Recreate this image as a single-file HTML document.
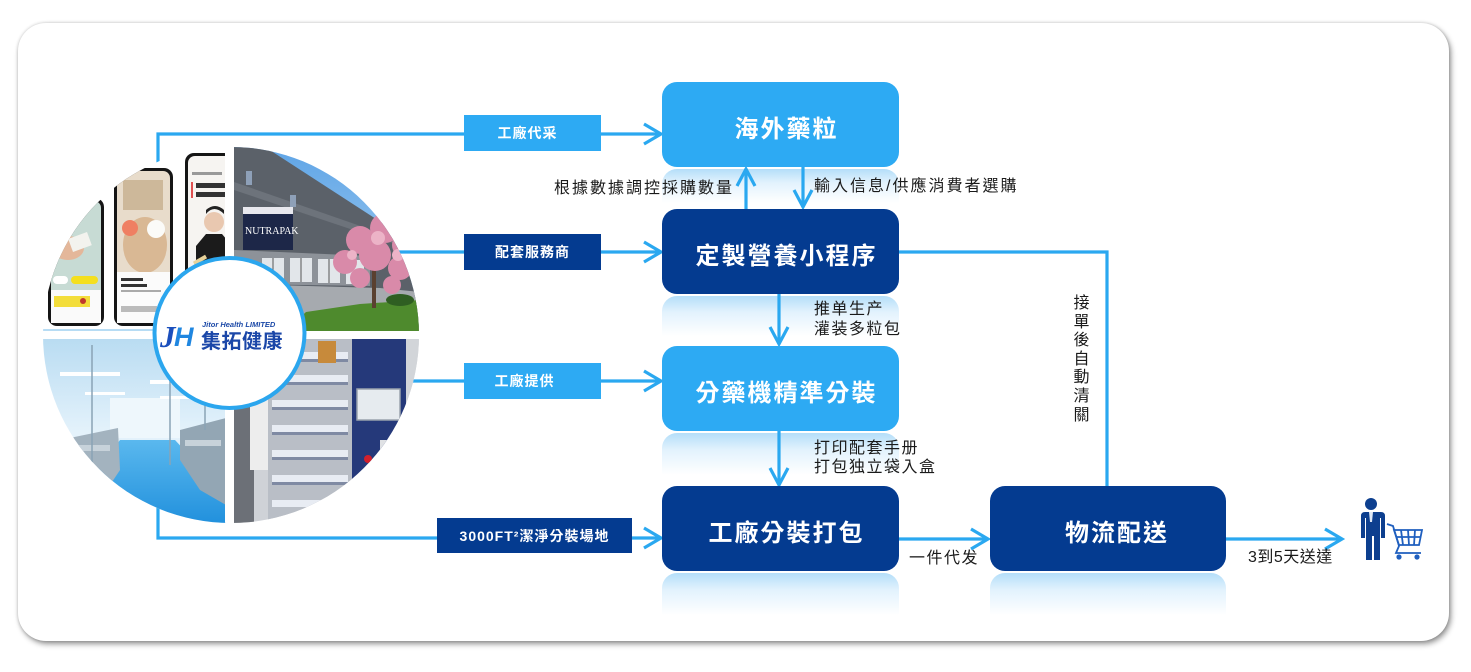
<!DOCTYPE html>
<html><head><meta charset="utf-8">
<style>
html,body{margin:0;padding:0;background:#fff;}
body{width:1471px;height:672px;position:relative;overflow:hidden;font-family:"Liberation Sans","Noto Sans CJK TC","Noto Sans CJK SC",sans-serif;}
.abs{position:absolute;left:0;top:0;}
.card{position:absolute;left:18px;top:23px;width:1431px;height:618px;border-radius:28px;background:#fff;box-shadow:2px 3px 6px rgba(0,0,0,0.42),0 0 3px rgba(0,0,0,0.18);}
.box{position:absolute;border-radius:15px;color:#fff;font-weight:bold;font-size:24px;letter-spacing:2px;display:flex;align-items:center;justify-content:center;box-sizing:border-box;padding-left:12px;padding-top:3px;}
.lt{background:#2daaf3;}
.dk{background:#043b90;}
.refl{position:absolute;border-radius:15px 15px 0 0;background:linear-gradient(to bottom,#b4def9 0%,#e2f2fd 40%,rgba(255,255,255,0) 100%);}
.lab{position:absolute;color:#fff;font-weight:bold;font-size:14px;letter-spacing:1px;display:flex;align-items:center;justify-content:center;box-sizing:border-box;}
.t{position:absolute;color:#1a1a1a;font-size:16px;line-height:20px;letter-spacing:1.5px;white-space:nowrap;}
</style></head>
<body>
<div class="card"></div>

<!-- reflections -->
<div class="refl" style="left:662px;top:169px;width:237px;height:34px;"></div>
<div class="refl" style="left:662px;top:296px;width:237px;height:40px;"></div>
<div class="refl" style="left:662px;top:433px;width:237px;height:42px;"></div>
<div class="refl" style="left:662px;top:573px;width:237px;height:42px;"></div>
<div class="refl" style="left:990px;top:573px;width:236px;height:42px;"></div>

<!-- connectors -->
<svg class="abs" width="1471" height="672" viewBox="0 0 1471 672">
<g fill="none" stroke="#2aa8f0" stroke-width="3.2" stroke-linejoin="miter" stroke-linecap="butt">
  <path d="M158,170 V134 H660"/>
  <polyline points="644,124 661,134 644,144"/>
  <path d="M300,252 H660"/>
  <polyline points="644,242 661,252 644,262"/>
  <path d="M300,381 H660"/>
  <polyline points="644,371 661,381 644,391"/>
  <path d="M158,500 V538 H660"/>
  <polyline points="644,528 661,538 644,548"/>
  <!-- up arrow -->
  <path d="M746,209 V170"/>
  <polyline points="737,186 746,169 755,186"/>
  <!-- down arrow -->
  <path d="M803,167 V206"/>
  <polyline points="794,190 803,207 812,190"/>
  <!-- 定製 -> 分藥機 -->
  <path d="M779,294 V343"/>
  <polyline points="770,327 779,344 788,327"/>
  <!-- 分藥機 -> 工廠分裝打包 -->
  <path d="M779,431 V484"/>
  <polyline points="770,468 779,485 788,468"/>
  <!-- 工廠分裝打包 -> 物流配送 -->
  <path d="M899,539 H987"/>
  <polyline points="971,529 988,539 971,549"/>
  <!-- 物流 -> customer -->
  <path d="M1226,539 H1341"/>
  <polyline points="1325,529 1342,539 1325,549"/>
  <!-- 定製 -> 物流 -->
  <path d="M899,252 H1107 V486"/>
</g>
</svg>

<!-- collage -->
<svg class="abs" width="1471" height="672" viewBox="0 0 1471 672">
<defs>
  <clipPath id="cc"><circle cx="231" cy="335" r="188"/></clipPath>
  <linearGradient id="sky" x1="0" y1="0" x2="0" y2="1"><stop offset="0" stop-color="#5ea4e6"/><stop offset="1" stop-color="#b2d6f3"/></linearGradient>
  <linearGradient id="room" x1="0" y1="0" x2="0" y2="1"><stop offset="0" stop-color="#b9dcf2"/><stop offset="0.5" stop-color="#e4f2fb"/><stop offset="1" stop-color="#cfe7f6"/></linearGradient>
  <linearGradient id="floor" x1="0" y1="0" x2="0" y2="1"><stop offset="0" stop-color="#5ab8ee"/><stop offset="1" stop-color="#1f8fdc"/></linearGradient>
</defs>
<g clip-path="url(#cc)">
  <rect x="40" y="145" width="386" height="382" fill="#fff"/>
  <!-- TL phones -->
  <rect x="48" y="198" width="56" height="128" rx="9" fill="#151515"/>
  <rect x="51" y="201" width="50" height="122" rx="7" fill="#c7dbd4"/>
  <ellipse cx="68" cy="248" rx="16" ry="12" fill="#e4b79a"/>
  <rect x="70" y="235" width="20" height="14" fill="#f3f3ee" transform="rotate(-20 80 242)"/>
  <rect x="51" y="290" width="50" height="33" fill="#fafafa"/>
  <rect x="53" y="276" width="15" height="8" rx="4" fill="#fff"/>
  <rect x="71" y="276" width="27" height="8" rx="4" fill="#f4df1e"/>
  <rect x="54" y="296" width="36" height="11" fill="#f3dd3a"/>
  <circle cx="83" cy="301" r="3" fill="#c0392b"/>
  <rect x="114" y="168" width="59" height="158" rx="9" fill="#151515"/>
  <rect x="117" y="171" width="53" height="152" rx="7" fill="#e8dccb"/>
  <rect x="123" y="180" width="40" height="30" fill="#cdb89a"/>
  <ellipse cx="145" cy="245" rx="22" ry="28" fill="#d9b894"/>
  <circle cx="130" cy="228" r="8" fill="#ef7f62"/>
  <circle cx="156" cy="229" r="9" fill="#fbfbf8"/>
  <rect x="117" y="272" width="53" height="51" fill="#fbfbfb"/>
  <rect x="121" y="278" width="22" height="3" fill="#333"/>
  <rect x="121" y="284" width="26" height="3" fill="#333"/>
  <rect x="121" y="290" width="40" height="2" fill="#aaa"/>
  <rect x="121" y="306" width="36" height="6" fill="#bbb"/>
  <rect x="185" y="153" width="48" height="180" rx="9" fill="#151515"/>
  <rect x="188" y="156" width="44" height="175" rx="7" fill="#f6f4f1"/>
  <rect x="192" y="172" width="30" height="3" fill="#999"/>
  <rect x="196" y="183" width="30" height="5" fill="#333"/>
  <rect x="196" y="192" width="30" height="5" fill="#333"/>
  <rect x="191" y="182" width="2" height="16" fill="#e05050"/>
  <circle cx="214" cy="222" r="10" fill="#e9c8b0"/>
  <path d="M206,214 q8,-10 18,0 v-4 q-9,-8 -18,0z" fill="#222"/>
  <polygon points="196,246 206,234 222,234 232,246 232,300 196,300" fill="#1b1b1b"/>
  <rect x="193" y="258" width="14" height="4" fill="#e8d39a" transform="rotate(-30 200 260)"/>
  <line x1="42" y1="330" x2="225" y2="330" stroke="#9fd0f0" stroke-width="1.5"/>

  <!-- TR building -->
  <rect x="234" y="145" width="192" height="186" fill="url(#sky)"/>
  <polygon points="234,145 262,145 390,228 420,246 420,331 234,331" fill="#5b6169"/>
  <polygon points="234,182 395,238 395,244 234,190" fill="#6d737b"/>
  <rect x="246" y="171" width="6" height="14" fill="#8ea0b8"/>
  <rect x="290" y="195" width="6" height="12" fill="#8ea0b8"/>
  <polygon points="234,250 370,256 370,286 234,284" fill="#8d9299"/>
  <rect x="262" y="258" width="22" height="24" fill="#e2e6ea"/>
  <rect x="290" y="258" width="22" height="24" fill="#e2e6ea"/>
  <rect x="318" y="259" width="22" height="24" fill="#e2e6ea"/>
  <rect x="346" y="260" width="18" height="24" fill="#e2e6ea"/>
  <line x1="273" y1="258" x2="273" y2="282" stroke="#555" stroke-width="1"/>
  <line x1="301" y1="258" x2="301" y2="282" stroke="#555" stroke-width="1"/>
  <line x1="329" y1="259" x2="329" y2="283" stroke="#555" stroke-width="1"/>
  <polygon points="234,284 380,288 420,292 420,331 234,331" fill="#a6aaaf"/>
  <polygon points="286,331 306,312 360,304 420,300 420,331" fill="#4e8a2d"/>
  <rect x="243" y="207" width="50" height="43" fill="#1d2748"/>
  <rect x="243" y="207" width="50" height="7" fill="#e8e8ee"/>
  <text x="245" y="234" font-family="Liberation Serif, serif" font-size="10" fill="#fff">NUTRAPAK</text>
  <rect x="372" y="268" width="4" height="40" fill="#5a4030"/>
  <g fill="#d98aa9">
    <circle cx="360" cy="240" r="14"/><circle cx="385" cy="228" r="15"/><circle cx="405" cy="245" r="13"/>
    <circle cx="345" cy="262" r="12"/><circle cx="375" cy="255" r="16"/><circle cx="400" cy="268" r="12"/>
    <circle cx="360" cy="278" r="10"/><circle cx="392" cy="285" r="9"/>
  </g>
  <g fill="#ecb3c7"><circle cx="378" cy="238" r="7"/><circle cx="352" cy="255" r="5"/><circle cx="398" cy="255" r="6"/></g>
  <ellipse cx="400" cy="300" rx="14" ry="6" fill="#2f5e22"/>

  <!-- BL clean room -->
  <rect x="40" y="339" width="186" height="188" fill="url(#room)"/>
  <rect x="110" y="398" width="70" height="40" fill="#eef7fc"/>
  <rect x="60" y="372" width="60" height="4" fill="#fff"/>
  <rect x="150" y="380" width="55" height="4" fill="#fff"/>
  <rect x="85" y="392" width="40" height="3" fill="#fff"/>
  <rect x="160" y="396" width="40" height="3" fill="#fff"/>
  <polygon points="55,527 120,440 175,440 226,495 226,527" fill="url(#floor)"/>
  <polygon points="60,440 118,428 120,470 100,500 60,510" fill="#a3b3bf"/>
  <polygon points="180,430 226,418 226,505 200,490 180,460" fill="#93a6b4"/>
  <rect x="70" y="445" width="40" height="6" fill="#c7d2da"/>
  <rect x="185" y="440" width="36" height="6" fill="#c7d2da"/>
  <line x1="92" y1="345" x2="92" y2="470" stroke="#8aa3b5" stroke-width="1.5"/>
  <line x1="170" y1="345" x2="170" y2="465" stroke="#8aa3b5" stroke-width="1.5"/>
  <line x1="205" y1="345" x2="205" y2="430" stroke="#8aa3b5" stroke-width="1.5"/>

  <!-- BR machine -->
  <rect x="234" y="339" width="192" height="188" fill="#cfd2d7"/>
  <rect x="234" y="339" width="20" height="188" fill="#6c7077"/>
  <rect x="250" y="395" width="18" height="75" fill="#ededed"/>
  <rect x="268" y="339" width="84" height="188" fill="#b9bec6"/>
  <g fill="#e8ecf3">
    <rect x="272" y="352" width="76" height="7"/>
    <rect x="272" y="375" width="76" height="7"/>
    <rect x="272" y="400" width="76" height="7"/>
    <rect x="272" y="425" width="76" height="7"/>
    <rect x="272" y="450" width="76" height="7"/>
    <rect x="272" y="475" width="76" height="7"/>
    <rect x="272" y="500" width="76" height="7"/>
  </g>
  <g fill="#7f8aa3">
    <rect x="272" y="359" width="76" height="3"/>
    <rect x="272" y="382" width="76" height="3"/>
    <rect x="272" y="407" width="76" height="3"/>
    <rect x="272" y="432" width="76" height="3"/>
    <rect x="272" y="457" width="76" height="3"/>
    <rect x="272" y="482" width="76" height="3"/>
  </g>
  <rect x="318" y="341" width="18" height="22" fill="#c78a3b"/>
  <rect x="352" y="339" width="54" height="188" fill="#25397a"/>
  <rect x="357" y="389" width="43" height="31" fill="#e6ebef" stroke="#9aa3ad" stroke-width="1.5"/>
  <rect x="380" y="440" width="26" height="87" fill="#dfe1e4"/>
  <circle cx="368" cy="459" r="4" fill="#d2202c"/>
  <rect x="406" y="339" width="20" height="188" fill="#d2d5d9"/>

  <!-- gaps -->
  <rect x="225" y="140" width="9" height="392" fill="#fff"/>
  <rect x="234" y="331" width="195" height="8" fill="#fff"/>
  <rect x="40" y="332" width="186" height="7" fill="#fff"/>
</g>
<!-- logo circle -->
<circle cx="229.5" cy="333" r="75" fill="#fff" stroke="#2ba6ee" stroke-width="4"/>
<text x="160" y="347" font-family="Liberation Serif, serif" font-style="italic" font-weight="bold" font-size="31" fill="#1b4fbc">J</text>
<text x="174" y="346" font-family="Liberation Sans, sans-serif" font-style="italic" font-weight="bold" font-size="27" fill="#1f86e0">H</text>
<text x="202" y="327" font-family="Liberation Sans, sans-serif" font-style="italic" font-weight="bold" font-size="7.5" fill="#1d4aa8">Jitor Health LIMITED</text>
<text x="201" y="348" font-family="Liberation Sans, Noto Sans CJK SC, sans-serif" font-weight="bold" font-size="20" fill="#1b47a8" letter-spacing="0.5">集拓健康</text>

<!-- customer icon -->
<g fill="#0d3f8f">
  <circle cx="1371" cy="504" r="6"/>
  <path d="M1361,512 h20 q4,0 4,4 v22 h-4 v-20 h-1 v42 h-6 v-24 h-2 v24 h-6 v-42 h-1 v20 h-4 v-22 q0,-4 4,-4z"/>
</g>
<polygon points="1369,512 1373,512 1372,522 1370,522" fill="#dfe8f5"/>
<g fill="none" stroke="#1f5fbf" stroke-width="1.8">
  <polyline points="1387,524 1393,526 1399,546 1396,553 1421,553"/>
  <polygon points="1394,530 1422,530 1419,545 1399,545"/>
  <line x1="1401" y1="530" x2="1403" y2="545"/><line x1="1408" y1="530" x2="1409" y2="545"/><line x1="1415" y1="530" x2="1414" y2="545"/>
  <line x1="1396" y1="537" x2="1421" y2="537"/>
</g>
<circle cx="1399" cy="557" r="2.6" fill="#1f5fbf"/>
<circle cx="1417" cy="557" r="2.6" fill="#1f5fbf"/>
</svg>

<!-- label boxes -->
<div class="lab lt" style="left:464px;top:115px;width:137px;height:36px;padding-right:10px;">工廠代采</div>
<div class="lab dk" style="left:464px;top:234px;width:137px;height:36px;">配套服務商</div>
<div class="lab lt" style="left:464px;top:363px;width:137px;height:36px;padding-right:16px;">工廠提供</div>
<div class="lab dk" style="left:437px;top:518px;width:195px;height:35px;">3000FT²潔淨分裝場地</div>

<!-- main boxes -->
<div class="box lt" style="left:662px;top:82px;width:237px;height:85px;">海外藥粒</div>
<div class="box dk" style="left:662px;top:209px;width:237px;height:85px;">定製營養小程序</div>
<div class="box lt" style="left:662px;top:346px;width:237px;height:85px;">分藥機精準分裝</div>
<div class="box dk" style="left:662px;top:486px;width:237px;height:85px;">工廠分裝打包</div>
<div class="box dk" style="left:990px;top:486px;width:236px;height:85px;padding-left:18px;">物流配送</div>

<!-- text labels -->
<div class="t" style="right:737px;top:179px;letter-spacing:2px;">根據數據調控採購數量</div>
<div class="t" style="left:814px;top:177px;letter-spacing:2px;">輸入信息/供應消費者選購</div>
<div class="t" style="left:814px;top:300px;">推单生产<br>灌装多粒包</div>
<div class="t" style="left:814px;top:439px;line-height:19px;">打印配套手册<br>打包独立袋入盒</div>
<div class="t" style="left:909px;top:549px;letter-spacing:1.5px;">一件代发</div>
<div class="t" style="left:1248px;top:548px;letter-spacing:0.5px;">3到5天送達</div>
<div class="t" style="left:1073px;top:295px;width:17px;line-height:18.6px;letter-spacing:0;white-space:normal;word-break:break-all;text-align:center;">接單後自動清關</div>
</body></html>
